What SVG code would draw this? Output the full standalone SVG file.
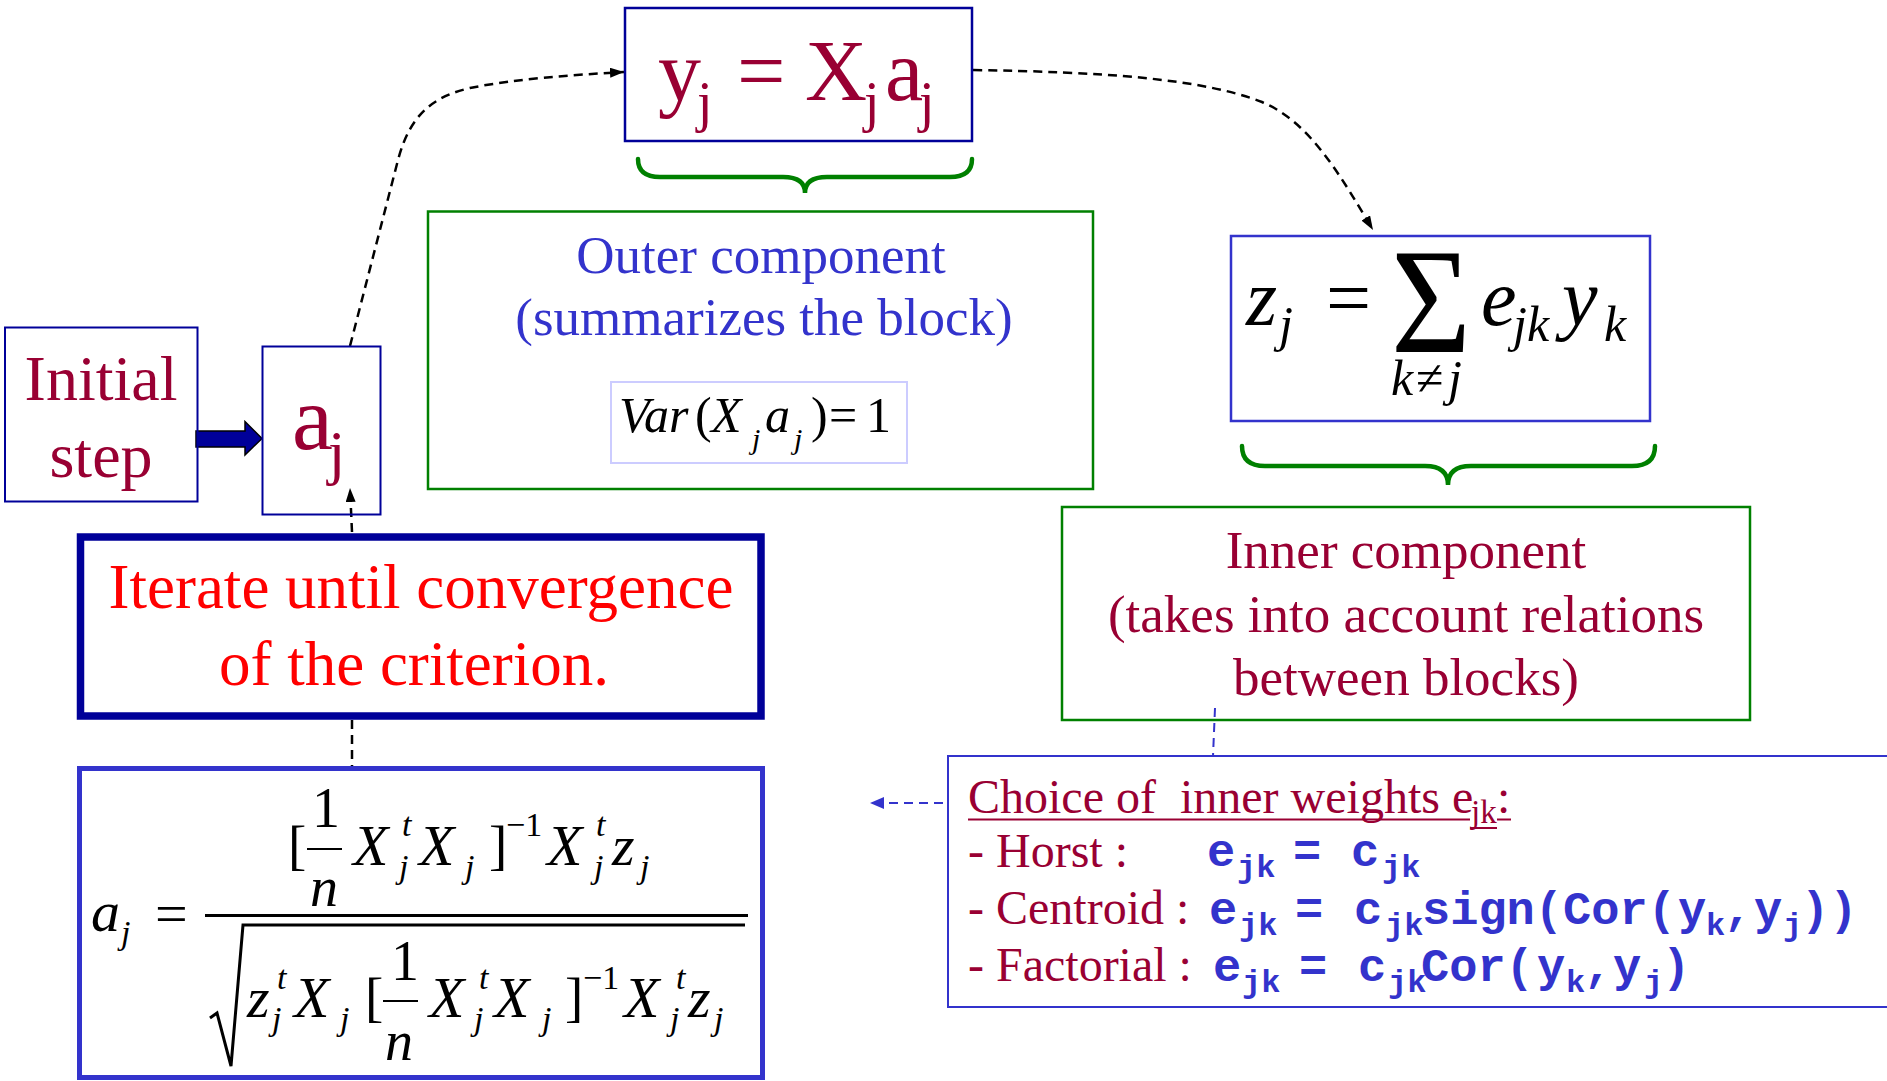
<svg xmlns="http://www.w3.org/2000/svg" width="1887" height="1081" viewBox="0 0 1887 1081">
<defs>
<style>
.serif{font-family:"Liberation Serif","Times New Roman",serif;}
.it{font-family:"Liberation Serif","Times New Roman",serif;font-style:italic;}
.mono{font-family:"Liberation Mono","Courier New",monospace;font-weight:bold;fill:#3333cc;}
.red{fill:#990033;}
.dash{fill:none;stroke:#000;stroke-width:2.5;stroke-dasharray:9 6;}
.bdash{fill:none;stroke:#3333cc;stroke-width:2;stroke-dasharray:9 6;}
.brace{fill:none;stroke:#008000;stroke-width:4.5;stroke-linecap:round;}
</style>
<marker id="ah" viewBox="0 0 14 10" refX="14" refY="5" markerWidth="14" markerHeight="10" markerUnits="userSpaceOnUse" orient="auto"><path d="M0,0 L14,5 L0,10 z" fill="#000"/></marker>
<marker id="ahb" viewBox="0 0 14 12" refX="14" refY="6" markerWidth="14" markerHeight="12" markerUnits="userSpaceOnUse" orient="auto"><path d="M0,0 L14,6 L0,12 z" fill="#3333cc"/></marker>
</defs>
<rect width="1887" height="1081" fill="#fff"/>

<g id="connectors">
<path class="dash" d="M350,346 L398,160 C410,115 432,97 470,88 C515,79 570,75 624,72" marker-end="url(#ah)"/>
<path class="dash" d="M973,70 C1100,72 1200,78 1262,102 C1310,122 1340,175 1373,230" marker-end="url(#ah)"/>
<path class="dash" d="M352,532 L350,488" marker-end="url(#ah)"/>
<path class="dash" d="M352,720 L352,766"/>
<path class="bdash" d="M1215,708 L1213,756"/>
<path class="bdash" d="M943,803 L870,803" marker-end="url(#ahb)"/>
<polygon points="196,431 245,431 245,421.5 262,438.5 245,455 245,447 196,447" fill="#000099" stroke="#000" stroke-width="1.5"/>
</g>

<g id="initial">
<rect x="5" y="327.5" width="192.5" height="174" fill="none" stroke="#000099" stroke-width="2"/>
<text class="serif red" font-size="64" text-anchor="middle" x="101" y="400">Initial</text>
<text class="serif red" font-size="64" text-anchor="middle" x="101" y="477">step</text>
</g>

<g id="aj">
<rect x="262.5" y="346.5" width="118" height="168" fill="none" stroke="#000099" stroke-width="2"/>
<text class="serif red" font-size="92" x="292" y="449">a</text>
<text class="serif red" font-size="62" x="328" y="473">j</text>
</g>

<g id="yj">
<rect x="625" y="8" width="347" height="133" fill="none" stroke="#000099" stroke-width="2.5"/>
<text class="serif red" font-size="86" y="100"><tspan x="658">y</tspan><tspan x="737">=</tspan><tspan x="805">X</tspan><tspan x="885">a</tspan></text>
<text class="serif red" font-size="56" y="121"><tspan x="697">j</tspan><tspan x="864">j</tspan><tspan x="919">j</tspan></text>
<path class="brace" d="M638,159 Q638,177 660,177 L783,177 Q805,177 805,193 Q805,177 827,177 L950,177 Q972,177 972,159"/>
</g>

<g id="outer">
<rect x="428" y="211.5" width="665" height="277.5" fill="none" stroke="#008000" stroke-width="2.5"/>
<text class="serif" fill="#3333cc" font-size="53" text-anchor="middle" x="761" y="273">Outer component</text>
<text class="serif" fill="#3333cc" font-size="53" text-anchor="middle" x="764" y="335">(summarizes the block)</text>
<rect x="611" y="382" width="296" height="81" fill="none" stroke="#ccccff" stroke-width="2"/>
<text font-size="50" y="432"><tspan class="it" x="619">Var</tspan><tspan class="serif" x="695">(</tspan><tspan class="it" x="711">X</tspan><tspan class="it" x="765">a</tspan><tspan class="serif" x="811">)</tspan><tspan class="serif" x="829">=</tspan><tspan class="serif" x="866">1</tspan></text>
<text class="it" font-size="30" y="449"><tspan x="752">j</tspan><tspan x="794">j</tspan></text>
</g>

<g id="zj">
<rect x="1231" y="236" width="419" height="185" fill="none" stroke="#3333cc" stroke-width="2.5"/>
<text class="it" font-size="80" y="325"><tspan x="1246">z</tspan><tspan x="1481">e</tspan><tspan x="1562">y</tspan></text>
<text class="it" font-size="50" y="341"><tspan x="1279">j</tspan><tspan x="1513">jk</tspan><tspan x="1604">k</tspan></text>
<text class="serif" font-size="80" x="1326" y="325">=</text>
<text class="serif" font-size="151" x="1391" y="352" textLength="80" lengthAdjust="spacingAndGlyphs">Σ</text>
<text font-size="50" y="395"><tspan class="it" x="1391">k</tspan><tspan class="serif" x="1416">≠</tspan><tspan class="it" x="1448">j</tspan></text>
<path class="brace" d="M1242,446 Q1242,466 1265,466 L1425,466 Q1448,466 1448,485 Q1448,466 1471,466 L1632,466 Q1655,466 1655,446"/>
</g>

<g id="inner">
<rect x="1062" y="507" width="688" height="213" fill="none" stroke="#008000" stroke-width="2.5"/>
<text class="serif red" font-size="53" text-anchor="middle" x="1406" y="568">Inner component</text>
<text class="serif red" font-size="53" text-anchor="middle" x="1406" y="632">(takes into account relations</text>
<text class="serif red" font-size="53" text-anchor="middle" x="1406" y="695">between blocks)</text>
</g>

<g id="iterate">
<rect x="80.5" y="537" width="680.5" height="179" fill="none" stroke="#000099" stroke-width="7.5"/>
<text class="serif" fill="#ff0000" font-size="63" text-anchor="middle" x="421" y="608">Iterate until convergence</text>
<text class="serif" fill="#ff0000" font-size="63" text-anchor="middle" x="414" y="685">of the criterion.</text>
</g>

<g id="formula">
<rect x="79.5" y="768.5" width="683" height="309" fill="none" stroke="#3333cc" stroke-width="5"/>
<text class="it" font-size="58" x="91" y="931">a</text>
<text class="it" font-size="34" x="121" y="944">j</text>
<text class="serif" font-size="58" x="155" y="933">=</text>
<line x1="205" y1="915.5" x2="748" y2="915.5" stroke="#000" stroke-width="3"/>
<path d="M210,1018 L217,1013 L231,1066 L243,925 L745,925" fill="none" stroke="#000" stroke-width="3"/>
<text class="serif" font-size="55" y="864"><tspan x="288">[</tspan><tspan x="489">]</tspan></text>
<text class="serif" font-size="56" x="312" y="827">1</text>
<line x1="307" y1="849" x2="342" y2="849" stroke="#000" stroke-width="2"/>
<text class="it" font-size="56" x="310" y="906">n</text>
<text class="it" font-size="58" y="865"><tspan x="353">X</tspan><tspan x="419">X</tspan><tspan x="547">X</tspan><tspan x="612">z</tspan></text>
<text class="it" font-size="34" y="836"><tspan x="402">t</tspan><tspan x="596">t</tspan></text>
<text class="serif" font-size="34" x="506" y="836">−1</text>
<text class="it" font-size="34" y="878"><tspan x="399">j</tspan><tspan x="465">j</tspan><tspan x="594">j</tspan><tspan x="640">j</tspan></text>
<text class="serif" font-size="55" y="1016"><tspan x="365">[</tspan><tspan x="565">]</tspan></text>
<text class="serif" font-size="56" x="391" y="980">1</text>
<line x1="383" y1="1001" x2="418" y2="1001" stroke="#000" stroke-width="2"/>
<text class="it" font-size="56" x="385" y="1060">n</text>
<text class="it" font-size="58" y="1017"><tspan x="247">z</tspan><tspan x="294">X</tspan><tspan x="429">X</tspan><tspan x="494">X</tspan><tspan x="624">X</tspan><tspan x="688">z</tspan></text>
<text class="it" font-size="34" y="989"><tspan x="277">t</tspan><tspan x="479">t</tspan><tspan x="676">t</tspan></text>
<text class="serif" font-size="34" x="583" y="989">−1</text>
<text class="it" font-size="34" y="1030"><tspan x="272">j</tspan><tspan x="340">j</tspan><tspan x="474">j</tspan><tspan x="542">j</tspan><tspan x="670">j</tspan><tspan x="714">j</tspan></text>
</g>

<g id="choice">
<rect x="948" y="756" width="945" height="251" fill="none" stroke="#3333cc" stroke-width="2"/>
<text class="serif red" font-size="48" x="968" y="813">Choice of&#160; inner weights e</text>
<text class="serif red" font-size="33" x="1471" y="823">jk</text>
<text class="serif red" font-size="48" x="1497" y="813">:</text>
<line x1="968" y1="819.5" x2="1470" y2="819.5" stroke="#990033" stroke-width="2"/>
<line x1="1470" y1="828" x2="1497" y2="828" stroke="#990033" stroke-width="2"/>
<line x1="1497" y1="819.5" x2="1511" y2="819.5" stroke="#990033" stroke-width="2"/>
<text class="serif red" font-size="48" x="968" y="867">- Horst :</text>
<text class="serif red" font-size="48" x="968" y="924">- Centroid :</text>
<text class="serif red" font-size="48" x="968" y="981">- Factorial :</text>
<text class="mono" font-size="47" y="866"><tspan x="1207">e</tspan><tspan x="1293">=</tspan><tspan x="1351">c</tspan></text>
<text class="mono" font-size="32" y="877"><tspan x="1237">jk</tspan><tspan x="1382">jk</tspan></text>
<text class="mono" font-size="47" y="924"><tspan x="1209">e</tspan><tspan x="1295">=</tspan><tspan x="1354">c</tspan><tspan x="1422">sign(Cor(</tspan><tspan x="1678">y</tspan><tspan x="1724">,</tspan><tspan x="1754">y</tspan><tspan x="1801">))</tspan></text>
<text class="mono" font-size="32" y="935"><tspan x="1239">jk</tspan><tspan x="1385">jk</tspan><tspan x="1706">k</tspan><tspan x="1783">j</tspan></text>
<text class="mono" font-size="47" y="981"><tspan x="1213">e</tspan><tspan x="1299">=</tspan><tspan x="1358">c</tspan><tspan x="1421">Cor(</tspan><tspan x="1537">y</tspan><tspan x="1584">,</tspan><tspan x="1613">y</tspan><tspan x="1662">)</tspan></text>
<text class="mono" font-size="32" y="992"><tspan x="1242">jk</tspan><tspan x="1388">jk</tspan><tspan x="1566">k</tspan><tspan x="1644">j</tspan></text>
</g>
</svg>
